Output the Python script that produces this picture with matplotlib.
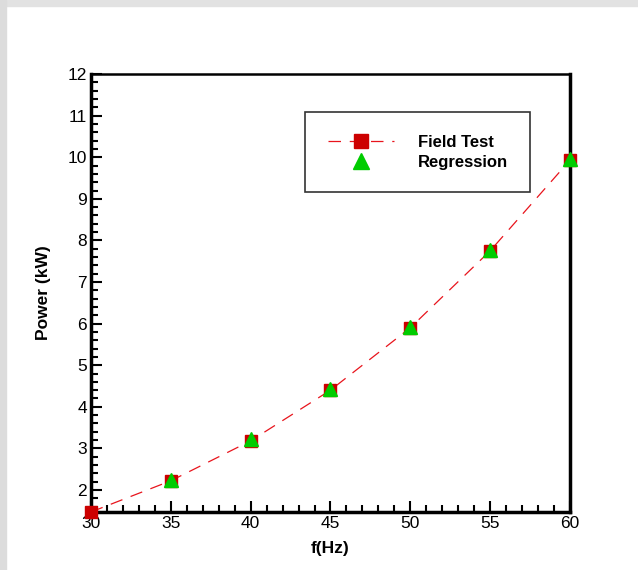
import matplotlib.pyplot as plt
from matplotlib.ticker import MultipleLocator
from matplotlib.patches import Rectangle

plt.rcParams['font.family'] = ['Liberation Sans', 'DejaVu Sans']

freq = [30, 35, 40, 45, 50, 55, 60]
power_field = [1.47, 2.22, 3.18, 4.40, 5.90, 7.75, 9.93]
freq_reg = [35, 40, 45, 50, 55, 60]
power_reg = [2.25, 3.22, 4.43, 5.93, 7.78, 9.95]

fig = plt.figure(figsize=(6.38, 5.7), dpi=100)
ax = fig.add_axes([0.1426, 0.1018, 0.7508, 0.7682])

# grey screenshot frame on top and left
fig.patches.append(Rectangle((0, 1 - 6 / 570), 1, 6 / 570, transform=fig.transFigure,
                             color='#e2e2e2', zorder=0))
fig.patches.append(Rectangle((0, 0), 6 / 638, 1, transform=fig.transFigure,
                             color='#dcdcdc', zorder=0))

ax.plot(freq, power_field, color='#e8141c', linestyle=(0, (10, 7)), linewidth=0.9,
        marker='s', markersize=9, markerfacecolor='#cc0000', markeredgecolor='#cc0000',
        label='Field Test', clip_on=False, zorder=3)
ax.plot(freq_reg, power_reg, linestyle='none', marker='^', markersize=10,
        markerfacecolor='#00cc00', markeredgecolor='#00cc00', label='Regression',
        clip_on=False, zorder=4)

ax.set_xlim(30, 60)
ax.set_ylim(1.47, 12)
ax.xaxis.set_major_locator(MultipleLocator(5))
ax.xaxis.set_minor_locator(MultipleLocator(1))
ax.yaxis.set_minor_locator(MultipleLocator(0.2))
ax.set_yticks(range(2, 13))

ax.tick_params(which='both', direction='in', top=False, right=False, width=1.5, labelsize=12.5)
ax.tick_params(which='major', length=8)
ax.tick_params(which='minor', length=5)
ax.tick_params(axis='x', pad=3)
ax.tick_params(axis='y', pad=3)

ax.spines['left'].set_linewidth(2.5)
ax.spines['bottom'].set_linewidth(2.5)
ax.spines['right'].set_linewidth(2.5)
ax.spines['top'].set_linewidth(1.8)

ax.set_xlabel('f(Hz)', fontsize=12.5, fontweight='bold', labelpad=7)
ax.set_ylabel('Power (kW)', fontsize=12.5, fontweight='bold', labelpad=12)

leg = ax.legend(loc='upper left', bbox_to_anchor=(0.447, 0.913), fancybox=False,
                frameon=True, edgecolor='black', fontsize=12, handlelength=4,
                borderpad=1.35, labelspacing=0.3, handletextpad=1.4, borderaxespad=0,
                markerscale=1.15)
leg.get_frame().set_linewidth(1.2)
for t in leg.get_texts():
    t.set_fontweight('bold')

fig.savefig('out.png', dpi=100)
